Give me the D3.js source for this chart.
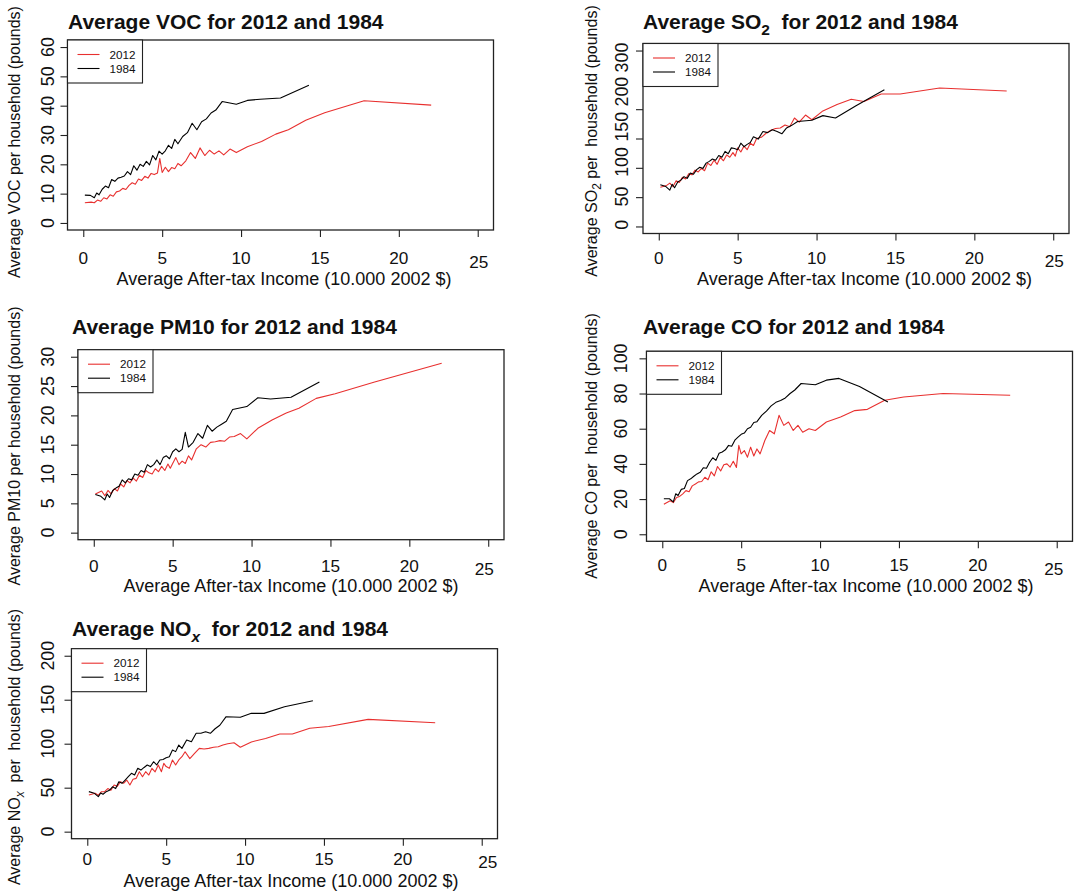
<!DOCTYPE html>
<html>
<head>
<meta charset="utf-8">
<script src="https://cdn.jsdelivr.net/npm/d3@7"></script>
<style>
  body { margin: 0; background: #fff; }
  text { font-family: "Liberation Sans", Arial, sans-serif; fill: #111; }
</style>
</head>
<body>
<svg id="chart" width="1075" height="894"></svg>
<script>
// ---- data ----
var years = ["2012", "1984"];
var xTicks = [0, 5, 10, 15, 20, 25];

// average after-tax income per group (10,000 2002 $)
var income2012 = [0.1, 0.5, 0.7, 0.9, 1.1, 1.3, 1.5, 1.7, 1.9, 2.1,
  2.3, 2.5, 2.7, 2.9, 3.1, 3.3, 3.5, 3.7, 3.9, 4.1,
  4.3, 4.5, 4.7, 4.85, 5.0, 5.2, 5.4, 5.6, 5.8, 6.0,
  6.2, 6.5, 6.8, 7.1, 7.4, 7.7, 8.0, 8.3, 8.6, 8.9,
  9.3, 9.7, 10.4, 11.3, 12.2, 13.0, 14.1, 15.3, 17.8, 22.05];
var income1984 = [0.1, 0.45, 0.7, 0.85, 1.0, 1.2, 1.4, 1.6, 1.8, 2.0,
  2.2, 2.4, 2.6, 2.8, 3.0, 3.2, 3.4, 3.6, 3.8, 4.0,
  4.2, 4.4, 4.6, 4.8, 5.0, 5.2, 5.4, 5.6, 5.8, 6.0,
  6.3, 6.6, 6.9, 7.2, 7.5, 7.8, 8.1, 8.4, 8.8, 9.7,
  10.4, 11.2, 12.5, 14.3];

var voc2012 = [6.9, 7.1, 6.9, 7.8, 7.4, 8.6, 8.2, 9.6, 9.1, 10.6,
  10.9, 11.8, 11.4, 12.8, 13.7, 13.2, 15.0, 14.5, 15.9, 15.3,
  16.9, 16.5, 17.0, 22.0, 17.2, 19.0, 17.5, 18.9, 18.5, 20.3,
  19.5, 21.2, 24.0, 22.0, 25.6, 23.0, 24.8, 23.5, 24.6, 23.2,
  25.2, 24.0, 26.0, 27.8, 30.3, 31.8, 35.0, 37.6, 41.7, 40.2];
var voc1984 = [9.5, 9.4, 8.6, 10.2, 9.6, 11.5, 12.6, 12.0, 14.8, 14.2,
  15.3, 15.6, 16.0, 17.5, 16.5, 19.5, 18.0, 20.0, 19.3, 21.0,
  19.8, 23.0, 21.5, 24.5, 23.5, 24.6, 26.5, 25.4, 28.5, 27.0,
  29.5, 30.8, 34.0, 31.8, 34.5, 35.5, 37.5, 38.5, 41.4, 40.5,
  41.8, 42.2, 42.6, 47.0];

var so2_2012 = [67, 70, 74, 68, 78, 75, 84, 81, 90, 88,
  96, 93, 99, 95, 108, 104, 113, 106, 118, 112,
  122, 118, 126, 120, 134, 127, 137, 131, 142, 138,
  150, 152, 159, 164, 167, 168, 173, 170, 185, 178,
  190, 182, 197, 208, 217, 213, 226, 226, 236, 231];
var so2_1984 = [71, 68, 62, 72, 66, 76, 79, 85, 82, 91,
  89, 97, 101, 99, 108, 111, 115, 113, 121, 118,
  128, 124, 134, 133, 131, 142, 136, 140, 143, 153,
  149, 162, 160, 165, 162, 158, 168, 172, 179, 181,
  189, 185, 206, 233];

var pm10_2012 = [6.6, 7.1, 6.3, 7.2, 6.6, 7.5, 7.1, 8.3, 7.8, 8.9,
  8.5, 9.3, 8.8, 9.8, 9.4, 10.6, 10.2, 10.0, 10.9, 10.4,
  11.3, 10.6, 11.7, 11.0, 11.8, 12.8, 11.6, 12.2, 11.8, 13.1,
  12.4, 14.3, 15.0, 14.6, 15.4, 15.5, 15.7, 15.6, 16.3, 16.4,
  16.9, 16.0, 17.8, 19.2, 20.4, 21.2, 22.9, 23.7, 25.7, 28.9];
var pm10_1984 = [6.5, 6.2, 5.6, 6.6, 6.0, 7.2, 7.6, 7.9, 9.0, 8.5,
  9.2, 9.0, 10.0, 9.8, 10.6, 10.3, 11.6, 11.2, 11.6, 12.4,
  11.6, 12.8, 13.1, 12.6, 13.8, 14.3, 13.8, 14.2, 17.1, 14.6,
  15.4, 16.9, 16.1, 18.3, 17.3, 18.0, 18.5, 19.0, 21.0, 21.5,
  23.0, 22.8, 23.1, 25.7];

var co2012 = [17.1, 19.0, 18.0, 20.9, 21.5, 23.0, 24.8, 24.2, 27.5, 28.6,
  29.8, 30.0, 32.4, 31.0, 35.5, 33.2, 38.5, 36.0, 39.5, 40.0,
  38.2, 41.5, 38.0, 50.5, 45.7, 47.6, 43.8, 49.5, 44.5, 48.5,
  45.7, 53.3, 59.0, 57.1, 67.6, 61.9, 63.8, 59.0, 61.9, 58.0,
  60.0, 59.0, 63.8, 66.6, 70.3, 71.0, 76.2, 78.0, 80.0, 79.0];
var co1984 = [20.2, 20.2, 18.4, 23.0, 22.0, 25.5, 26.0, 30.5, 31.5, 33.0,
  34.3, 35.2, 37.8, 37.5, 40.9, 43.5, 42.0, 46.0, 46.8, 48.0,
  50.5, 50.0, 53.5, 55.2, 56.8, 57.5, 60.0, 60.8, 63.5, 64.0,
  67.6, 70.0, 73.0, 75.0, 76.0, 77.5, 80.0, 82.0, 85.7, 85.0,
  87.6, 88.6, 84.0, 75.2];

var nox2012 = [41.7, 43.6, 41.5, 45.4, 45.5, 49.0, 47.0, 53.0, 51.5, 56.8,
  55.0, 58.7, 53.0, 59.5, 60.6, 68.2, 62.5, 68.2, 64.4, 72.0,
  68.0, 75.8, 68.2, 77.7, 74.0, 72.0, 81.5, 75.8, 81.5, 85.2,
  90.9, 83.0, 89.0, 94.7, 94.0, 94.7, 96.0, 96.6, 98.5, 100.0,
  101.0, 96.0, 102.0, 106.0, 111.0, 111.0, 117.5, 119.5, 127.7, 123.9];
var nox1984 = [45.5, 43.6, 39.8, 44.0, 42.5, 45.5, 47.0, 51.0, 49.0, 56.8,
  55.0, 58.7, 62.5, 66.3, 64.4, 72.0, 70.0, 73.0, 75.8, 74.0,
  79.5, 75.8, 81.5, 82.0, 84.0, 85.2, 92.8, 91.0, 98.5, 94.7,
  104.2, 102.3, 111.8, 111.8, 113.6, 111.8, 117.0, 121.0, 130.7, 130.0,
  134.5, 134.5, 142.0, 148.9];

// y tick values (SO2 has no 250 tick, and its labels sit off the ticks)
var vocTicks = [0, 10, 20, 30, 40, 50, 60];
var so2Ticks = [0, 50, 100, 150, 200, 300];
var so2LabelAt = [3, 51, 110, 170, 230, 288];
var pm10Ticks = [0, 5, 10, 15, 20, 25, 30];
var coTicks = [0, 20, 40, 60, 80, 100];
var noxTicks = [0, 50, 100, 150, 200];

// ---- layout ----
var W = 426, H = 190;
var RED = "#e8302f";

var panels = [
  { s2012: voc2012, s1984: voc1984, ymax: 60, ticks: vocTicks, labelAt: vocTicks,
    title: [["Average VOC for 2012 and 1984"]],
    ylab: [["Average VOC per household (pounds)"]],
    x0: 67.5, y0: 40, tx: 68, ty: 29, xlx: 284, xly: 285, ylx: 20, yly: 142, ytx: 47.5, xtb: 34, lastDx: 1 },
  { s2012: so2_2012, s1984: so2_1984, ymax: 300, ticks: so2Ticks, labelAt: so2LabelAt,
    title: [["Average SO"], ["2", "sub"], ["  for 2012 and 1984"]],
    ylab: [["Average SO"], ["2", "sub"], [" per  household (pounds)"]],
    x0: 643, y0: 43.5, tx: 643, ty: 29, xlx: 864.5, xly: 285, ylx: 597, yly: 141, ytx: 621.5, xtb: 30, lastDx: 1 },
  { s2012: pm10_2012, s1984: pm10_1984, ymax: 30, ticks: pm10Ticks, labelAt: pm10Ticks,
    title: [["Average PM10 for 2012 and 1984"]],
    ylab: [["Average PM10 per household (pounds)"]],
    x0: 78, y0: 349.7, tx: 72, ty: 334, xlx: 291, xly: 592, ylx: 20, yly: 446, ytx: 48, xtb: 32, lastDx: -4 },
  { s2012: co2012, s1984: co1984, ymax: 100, ticks: coTicks, labelAt: coTicks,
    title: [["Average CO for 2012 and 1984"]],
    ylab: [["Average CO per  household (pounds)"]],
    x0: 646.5, y0: 351.3, tx: 643, ty: 334, xlx: 866, xly: 592, ylx: 597, yly: 446, ytx: 620.5, xtb: 30, lastDx: -3 },
  { s2012: nox2012, s1984: nox1984, ymax: 200, ticks: noxTicks, labelAt: noxTicks,
    title: [["Average NO"], ["x", "subi"], ["  for 2012 and 1984"]],
    ylab: [["Average NO"], ["x", "subi"], ["  per  household (pounds)"]],
    x0: 71.5, y0: 648.7, tx: 72, ty: 636, xlx: 291, xly: 887, ylx: 20, yly: 747, ytx: 47.5, xtb: 26, lastDx: 6 }
];

var svg = d3.select("#chart");
panels.forEach(drawPanel);

// write text made of pieces, some of them subscripts
function addParts(t, parts, subSize, shift) {
  parts.forEach(function(p) {
    var ts = t.append("tspan").text(p[0]);
    if (p[1]) {
      ts.attr("baseline-shift", shift).style("font-size", subSize);
      if (p[1] == "subi") ts.style("font-style", "italic");
    }
  });
}

function drawPanel(p) {
  // R style: limits padded by 4%
  var x = d3.scaleLinear().domain([-1, 26]).range([p.x0, p.x0 + W]);
  var y = d3.scaleLinear().domain([-0.04 * p.ymax, 1.04 * p.ymax]).range([p.y0 + H, p.y0]);
  var g = svg.append("g");

  var line2012 = d3.line().x(function(d, i) { return x(income2012[i]); }).y(function(d) { return y(d); });
  var line1984 = d3.line().x(function(d, i) { return x(income1984[i]); }).y(function(d) { return y(d); });

  g.append("path").datum(p.s2012).attr("d", line2012)
    .attr("fill", "none").attr("stroke", RED).attr("stroke-width", 1.1).attr("stroke-linejoin", "round");
  g.append("path").datum(p.s1984).attr("d", line1984)
    .attr("fill", "none").attr("stroke", "#000").attr("stroke-width", 1.1).attr("stroke-linejoin", "round");

  // axes (ticks only, the box gives the line)
  var xAxis = d3.axisBottom(x).tickValues(xTicks).tickSize(7).tickSizeOuter(0).tickFormat("");
  var xg = g.append("g").attr("transform", "translate(0," + (p.y0 + H) + ")").call(xAxis);
  var yAxis = d3.axisLeft(y).tickValues(p.ticks).tickSize(7).tickSizeOuter(0).tickFormat("");
  var yg = g.append("g").attr("transform", "translate(" + p.x0 + ",0)").call(yAxis);
  [xg, yg].forEach(function(a) {
    a.select(".domain").remove();
    a.selectAll("line").attr("stroke", "#222").attr("stroke-width", 1.1);
  });

  g.selectAll(".xlab").data(xTicks).enter().append("text")
    .attr("class", "xlab")
    .attr("x", function(d) { return x(d) + (d == 25 ? p.lastDx : 0); })
    .attr("y", function(d) { return p.y0 + H + p.xtb + (d == 25 ? 3.5 : 0); })
    .attr("text-anchor", "middle")
    .style("font-size", "17.2px")
    .text(function(d) { return d; });

  g.selectAll(".ylab").data(p.ticks).enter().append("text")
    .attr("class", "ylab")
    .attr("transform", function(d, i) { return "translate(" + p.ytx + "," + y(p.labelAt[i]) + ") rotate(-90)"; })
    .attr("dy", "0.36em")
    .attr("text-anchor", "middle")
    .style("font-size", "17.8px")
    .text(function(d) { return d; });

  // plot box
  g.append("rect").attr("x", p.x0).attr("y", p.y0).attr("width", W).attr("height", H)
    .attr("fill", "none").attr("stroke", "#222").attr("stroke-width", 1.3);

  // legend
  var lg = g.append("g").attr("transform", "translate(" + p.x0 + "," + p.y0 + ")");
  lg.append("rect").attr("width", 75).attr("height", 43)
    .attr("fill", "#fff").attr("stroke", "#222").attr("stroke-width", 1.1);
  years.forEach(function(yr, i) {
    lg.append("line").attr("x1", 10).attr("x2", 32).attr("y1", 14.5 + i * 14).attr("y2", 14.5 + i * 14)
      .attr("stroke", i == 0 ? RED : "#000").attr("stroke-width", 1.1);
    lg.append("text").attr("x", 42).attr("y", 14.5 + i * 14).attr("dy", "0.36em")
      .style("font-size", "11.7px").text(yr);
  });

  // titles
  var t = g.append("text").attr("x", p.tx).attr("y", p.ty)
    .style("font-size", "21px").style("font-weight", "bold").style("white-space", "pre");
  addParts(t, p.title, "15.5px", "-40%");

  g.append("text").attr("x", p.xlx).attr("y", p.xly).attr("text-anchor", "middle")
    .style("font-size", "18px").text("Average After-tax Income (10.000 2002 $)");

  var yt = g.append("text").attr("transform", "translate(" + p.ylx + "," + p.yly + ") rotate(-90)")
    .attr("text-anchor", "middle").style("font-size", "16px").style("white-space", "pre");
  addParts(yt, p.ylab, "12px", "-30%");
}
</script>
</body>
</html>
